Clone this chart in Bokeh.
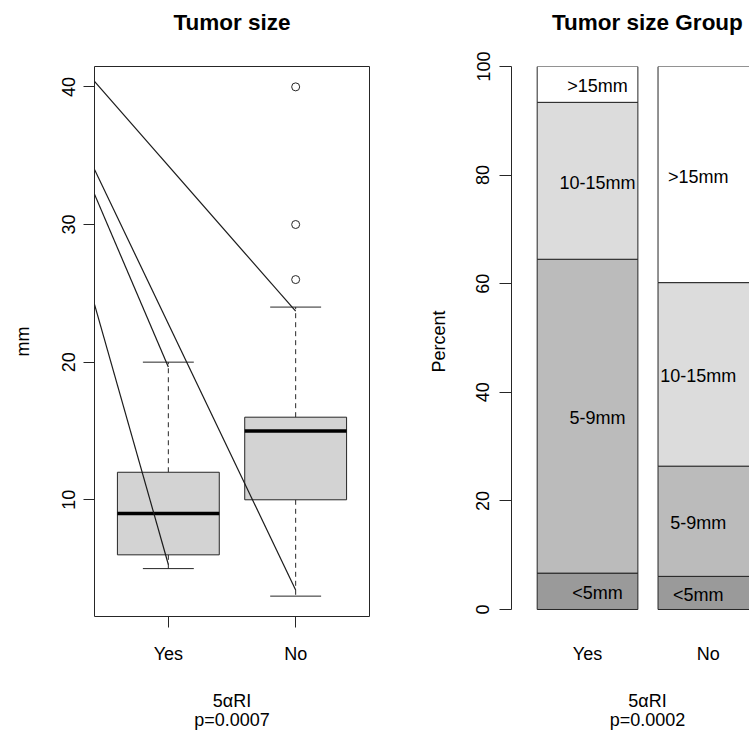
import numpy as np
from bokeh.plotting import figure
from bokeh.models import Range1d, FixedTicker, LinearAxis
from bokeh.layouts import row
from bokeh.embed import file_html
from bokeh.resources import INLINE
from bokeh.core.properties import value

# ---------------- data ----------------
groups = ["Yes", "No"]
whisker_low = [5, 3]
quart1 = [6, 10]
medians = [9, 15]
quart3 = [12, 16]
whisker_high = [20, 24]
outlier_groups = ["No", "No", "No"]
outlier_vals = [26, 30, 40]
trace_start = [40.4, 34.0, 32.2, 24.2]
trace_end_group = ["No", "No", "Yes", "Yes"]
trace_end = [23.7, 3.45, 19.65, 5.3]

size_groups = ["<5mm", "5-9mm", "10-15mm", ">15mm"]
pct_yes = [6.7, 57.8, 28.9, 6.6]
pct_no = [6.1, 20.3, 33.8, 39.8]

y_ticks_mm = [10, 20, 30, 40]
y_ticks_pct = [0, 20, 40, 60, 80, 100]
titles = ["Tumor size", "Tumor size Group"]
x_title = "5\u03b1RI"
p_values = ["p=0.0007", "p=0.0002"]

# ---------------- style ----------------
FONT = "Liberation Sans"
LINE = "#262626"
TXT = "18px"
TITLE_SIZE = "22.5px"
bar_colors = ["#9A9A9A", "#BBBBBB", "#DCDCDC", "#FFFFFF"]


def style_common(p):
    p.xgrid.visible = False
    p.ygrid.visible = False
    p.background_fill_color = "white"
    p.border_fill_color = "white"
    for ax in (p.xaxis[0], p.yaxis[0]):
        ax.major_label_text_font = FONT
        ax.major_label_text_font_size = TXT
        ax.major_label_text_color = "black"
        ax.axis_label_text_font = FONT
        ax.axis_label_text_font_size = TXT
        ax.axis_label_text_font_style = "normal"
        ax.axis_label_text_color = "black"
        ax.major_tick_in = 0
        ax.minor_tick_in = 0
        ax.minor_tick_out = 0
        ax.minor_tick_line_color = None
        ax.major_tick_line_color = LINE
        ax.major_tick_line_width = 1


def text_axis(p, place, x, text, standoff, size=TXT, bold=False):
    """A tick-less axis whose single label carries a heading / note text."""
    ax = LinearAxis(ticker=FixedTicker(ticks=[x], minor_ticks=[]),
                    major_label_overrides={x: text},
                    major_tick_out=0, major_tick_in=0, minor_tick_out=0, minor_tick_in=0,
                    major_label_standoff=standoff, axis_line_color=None,
                    major_tick_line_color=None, minor_tick_line_color=None,
                    major_label_text_font=FONT, major_label_text_font_size=size,
                    major_label_text_font_style="bold" if bold else "normal",
                    major_label_text_color="black")
    p.add_layout(ax, place)


def decorate(p, x, title, bottom1, bottom2):
    text_axis(p, "above", x, title, 32, size=TITLE_SIZE, bold=True)
    text_axis(p, "below", x, bottom1, 24)
    text_axis(p, "below", x, bottom2, -4)


# ---------------- left: boxplot ----------------
x_lo, x_hi = 0.42, 2.58
p1 = figure(width=380, height=733, x_range=Range1d(x_lo, x_hi), y_range=Range1d(1.52, 41.48),
            output_backend="svg", toolbar_location=None, title=None,
            min_border_left=94, min_border_right=11, min_border_top=66, min_border_bottom=117)
style_common(p1)
p1.outline_line_color = LINE
p1.outline_line_width = 1
p1.outline_line_alpha = 1.0

pos = {g: i + 1 for i, g in enumerate(groups)}
xs = np.array([pos[g] for g in groups], dtype=float)
half_box, half_cap = 0.4, 0.2

p1.segment(x0=xs, y0=quart3, x1=xs, y1=whisker_high, line_color=LINE, line_dash="5 4", line_width=1)
p1.segment(x0=xs, y0=quart1, x1=xs, y1=whisker_low, line_color=LINE, line_dash="5 4", line_width=1)
p1.quad(left=xs - half_box, right=xs + half_box, bottom=quart1, top=quart3,
        fill_color="#D3D3D3", line_color=LINE, line_width=1)
p1.segment(x0=xs - half_box, y0=medians, x1=xs + half_box, y1=medians, line_color="black", line_width=3.5)
p1.segment(x0=xs - half_cap, y0=whisker_high, x1=xs + half_cap, y1=whisker_high, line_color=LINE, line_width=1)
p1.segment(x0=xs - half_cap, y0=whisker_low, x1=xs + half_cap, y1=whisker_low, line_color=LINE, line_width=1)
p1.scatter(x=[pos[g] for g in outlier_groups], y=outlier_vals, marker="circle", size=8,
           fill_color=None, line_color=LINE, line_width=1)
p1.segment(x0=[x_lo] * len(trace_start), y0=trace_start,
           x1=[pos[g] for g in trace_end_group], y1=trace_end, line_color="#1a1a1a", line_width=1.2)

p1.xaxis.ticker = FixedTicker(ticks=list(xs))
p1.xaxis.major_label_overrides = {int(pos[g]): g for g in groups}
p1.xaxis.major_tick_out = 11
p1.xaxis.major_label_standoff = 16
p1.xaxis.axis_line_color = None
p1.yaxis.ticker = FixedTicker(ticks=y_ticks_mm, minor_ticks=[])
p1.yaxis.major_tick_out = 11
p1.yaxis.major_label_standoff = 8
p1.yaxis.major_label_orientation = "vertical"
p1.yaxis.axis_line_color = None
p1.yaxis.axis_label = "mm"
p1.yaxis.axis_label_standoff = 27

decorate(p1, 1.5, titles[0], x_title, p_values[0])

# ---------------- right: stacked bars ----------------
bar_centers = [0.7, 1.9]
bar_half = 0.5
label_shift = [0.1, -0.1]
p2 = figure(width=369, height=733, x_range=Range1d(-0.055, 2.3085), y_range=Range1d(-1.29, 100),
            output_backend="svg", toolbar_location=None, title=None,
            min_border_left=131, min_border_right=0, min_border_top=66, min_border_bottom=117)
style_common(p2)
p2.outline_line_color = None

for gi, pct in enumerate([pct_yes, pct_no]):
    tops = np.cumsum(pct)
    bottoms = tops - np.array(pct)
    c = bar_centers[gi]
    p2.quad(left=[c - bar_half] * len(pct), right=[c + bar_half] * len(pct),
            bottom=bottoms, top=tops, fill_color=bar_colors, line_color=LINE, line_width=1)
    p2.text(x=[c + label_shift[gi]] * len(pct), y=(bottoms + tops) / 2, text=size_groups,
            text_font=value(FONT), text_font_size=TXT, text_align="center",
            text_baseline="middle", text_color="black", y_offset=2)

p2.xaxis.ticker = FixedTicker(ticks=bar_centers)
p2.xaxis.major_label_overrides = dict(zip(bar_centers, groups))
p2.xaxis.major_tick_out = 0
p2.xaxis.major_tick_line_color = None
p2.xaxis.major_label_standoff = 27
p2.xaxis.axis_line_color = None
p2.yaxis.ticker = FixedTicker(ticks=y_ticks_pct, minor_ticks=[])
p2.yaxis.bounds = (0, 100)
p2.yaxis.major_tick_out = 12
p2.yaxis.major_label_standoff = 10
p2.yaxis.major_label_orientation = "vertical"
p2.yaxis.axis_line_color = LINE
p2.yaxis.axis_label = "Percent"
p2.yaxis.axis_label_standoff = 25

decorate(p2, 1.295, titles[1], x_title, p_values[1])

layout = row(p1, p2, spacing=0)
open("out.html", "w").write(file_html(layout, INLINE, title="Tumor size"))
